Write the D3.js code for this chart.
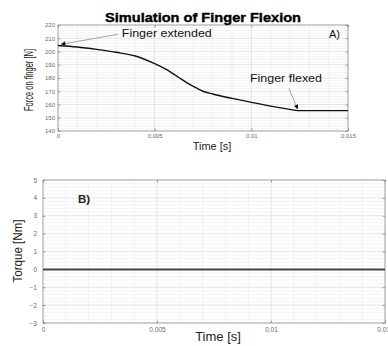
<!DOCTYPE html>
<html>
<head>
<meta charset="utf-8">
<script src="https://cdn.jsdelivr.net/npm/d3@7"></script>
<style>
  html, body { margin: 0; padding: 0; background: #fff; }
  svg { display: block; font-family: "Liberation Sans", Arial, sans-serif; }
</style>
</head>
<body>
<div id="chart"></div>
<script>
// Panel A: force on finger over time
const timeS = [0, 0.001, 0.002, 0.003, 0.004, 0.005, 0.0055, 0.006, 0.0065, 0.007,
  0.0075, 0.008, 0.009, 0.010, 0.011, 0.012, 0.0124, 0.013, 0.014, 0.015];
const forceN = [204.5, 203.4, 201.6, 199.4, 196.6, 190.8, 187.2, 182.8, 178.0, 173.6,
  170.0, 167.9, 164.6, 161.6, 158.8, 156.3, 155.4, 155.4, 155.4, 155.4];

// Panel B: torque (flat zero)
const torqueTime = [0, 0.015];
const torqueNm = [0, 0];

const timeTicks = [0, 0.005, 0.01, 0.015];
const timeTickLabels = ['0', '0.005', '0.01', '0.015'];
const forceTicks = [140, 150, 160, 170, 180, 190, 200, 210, 220];
const torqueTicks = [-3, -2, -1, 0, 1, 2, 3, 4, 5];

const width = 388, height = 346;
const svg = d3.select('#chart').append('svg')
  .attr('width', width).attr('height', height);

const defs = svg.append('defs');
defs.append('marker').attr('id', 'arr')
  .attr('viewBox', '0 0 10 10').attr('refX', 10).attr('refY', 5)
  .attr('markerWidth', 7).attr('markerHeight', 5).attr('orient', 'auto')
  .append('path').attr('d', 'M0,0 L10,5 L0,10 Z').attr('fill', '#111');

function minorTicks(major, n) {
  const out = [];
  for (let i = 0; i < major.length - 1; i++) {
    const step = (major[i + 1] - major[i]) / n;
    for (let k = 1; k < n; k++) out.push(major[i] + k * step);
  }
  return out;
}

function panel(opt) {
  const { x, y, xt, yt } = opt;
  const [x0, x1] = x.range();
  const [y0, y1] = y.range(); // y0 bottom, y1 top
  const g = svg.append('g');

  // minor grid
  g.selectAll(null).data(minorTicks(xt, 5)).join('line')
    .attr('x1', d => x(d)).attr('x2', d => x(d)).attr('y1', y1).attr('y2', y0)
    .attr('stroke', '#ebebeb').attr('stroke-width', 0.6);
  g.selectAll(null).data(minorTicks(yt, 5)).join('line')
    .attr('x1', x0).attr('x2', x1).attr('y1', d => y(d)).attr('y2', d => y(d))
    .attr('stroke', '#ebebeb').attr('stroke-width', 0.6);
  // major grid
  g.selectAll(null).data(xt).join('line')
    .attr('x1', d => x(d)).attr('x2', d => x(d)).attr('y1', y1).attr('y2', y0)
    .attr('stroke', '#d9d9d9').attr('stroke-width', 0.7);
  g.selectAll(null).data(yt).join('line')
    .attr('x1', x0).attr('x2', x1).attr('y1', d => y(d)).attr('y2', d => y(d))
    .attr('stroke', '#d9d9d9').attr('stroke-width', 0.7);

  // box
  g.append('rect').attr('x', x0).attr('y', y1)
    .attr('width', x1 - x0).attr('height', y0 - y1)
    .attr('fill', 'none').attr('stroke', '#9a9a9a').attr('stroke-width', 0.8);

  // axes with inward ticks
  g.append('g').attr('transform', `translate(0,${y0})`)
    .call(d3.axisBottom(x).tickValues(xt).tickSizeInner(-2.5).tickSizeOuter(0)
      .tickPadding(opt.xPad).tickFormat((d, i) => timeTickLabels[i]));
  g.append('g').attr('transform', `translate(${x0},0)`)
    .call(d3.axisLeft(y).tickValues(yt).tickSizeInner(-2.5).tickSizeOuter(0)
      .tickPadding(opt.yPad));
  g.append('g').attr('transform', `translate(0,${y1})`)
    .call(d3.axisTop(x).tickValues(xt).tickSizeInner(-2.5).tickSizeOuter(0).tickFormat(''));
  g.append('g').attr('transform', `translate(${x1},0)`)
    .call(d3.axisRight(y).tickValues(yt).tickSizeInner(-2.5).tickSizeOuter(0).tickFormat(''));
  g.selectAll('.domain').remove();
  g.selectAll('.tick line').attr('stroke', '#777').attr('stroke-width', 0.7);
  g.selectAll('.tick text').attr('fill', '#6a6a6a').attr('font-size', opt.tickFont);
  return g;
}

// ---------- Panel A ----------
const xA = d3.scaleLinear().domain([0, 0.015]).range([58, 348]);
const yA = d3.scaleLinear().domain([140, 220]).range([131, 25]);
const gA = panel({ x: xA, y: yA, xt: timeTicks, yt: forceTicks, xPad: 3, yPad: 3, tickFont: '6px' });

gA.append('path')
  .datum(timeS.map((t, i) => [t, forceN[i]]))
  .attr('d', d3.line().curve(d3.curveMonotoneX).x(d => xA(d[0])).y(d => yA(d[1])))
  .attr('fill', 'none').attr('stroke', '#111').attr('stroke-width', 1.4);

svg.append('text').attr('x', 203).attr('y', 22).attr('text-anchor', 'middle')
  .attr('font-size', '12px').attr('font-weight', 'bold')
  .attr('stroke', '#000').attr('stroke-width', 0.35)
  .attr('textLength', 196).attr('lengthAdjust', 'spacingAndGlyphs')
  .text('Simulation of Finger Flexion');

svg.append('text').attr('transform', 'translate(33,80) rotate(-90)')
  .attr('text-anchor', 'middle').attr('font-size', '12px').attr('fill', '#222')
  .attr('textLength', 62).attr('lengthAdjust', 'spacingAndGlyphs')
  .text('Force on finger [N]');

svg.append('text').attr('x', 212).attr('y', 150).attr('text-anchor', 'middle')
  .attr('font-size', '11px').attr('fill', '#222').text('Time [s]');

svg.append('text').attr('x', 340).attr('y', 38).attr('text-anchor', 'end')
  .attr('font-size', '11px').attr('fill', '#111').text('A)');

// annotations
gA.append('line')
  .attr('x1', xA(0.0031)).attr('y1', yA(213.0))
  .attr('x2', xA(0.00015)).attr('y2', yA(205.4))
  .attr('stroke', '#999').attr('stroke-width', 0.9).attr('marker-end', 'url(#arr)');
svg.append('text').attr('x', xA(0.0033)).attr('y', yA(210.8))
  .attr('font-size', '10.5px').attr('fill', '#111')
  .attr('textLength', 90).attr('lengthAdjust', 'spacingAndGlyphs')
  .text('Finger extended');

gA.append('line')
  .attr('x1', xA(0.01195)).attr('y1', yA(172.0))
  .attr('x2', xA(0.0124)).attr('y2', yA(156.4))
  .attr('stroke', '#999').attr('stroke-width', 0.9).attr('marker-end', 'url(#arr)');
svg.append('text').attr('x', xA(0.00993)).attr('y', yA(177.0))
  .attr('font-size', '10.5px').attr('fill', '#111')
  .attr('textLength', 72).attr('lengthAdjust', 'spacingAndGlyphs')
  .text('Finger flexed');

// ---------- Panel B ----------
const xB = d3.scaleLinear().domain([0, 0.015]).range([43, 385]);
const yB = d3.scaleLinear().domain([-3, 5]).range([323, 180]);
const gB = panel({ x: xB, y: yB, xt: timeTicks, yt: torqueTicks, xPad: 4, yPad: 6, tickFont: '6.5px' });

gB.append('path')
  .datum(torqueTime.map((t, i) => [t, torqueNm[i]]))
  .attr('d', d3.line().x(d => xB(d[0])).y(d => yB(d[1])))
  .attr('fill', 'none').attr('stroke', '#444').attr('stroke-width', 2);

svg.append('text').attr('x', 78).attr('y', 203)
  .attr('font-size', '11.5px').attr('font-weight', 'bold').attr('fill', '#222').text('B)');

svg.append('text').attr('transform', 'translate(22,251) rotate(-90)')
  .attr('text-anchor', 'middle').attr('font-size', '12.5px').attr('fill', '#222')
  .attr('textLength', 63).attr('lengthAdjust', 'spacingAndGlyphs')
  .text('Torque [Nm]');

svg.append('text').attr('x', 218).attr('y', 341).attr('text-anchor', 'middle')
  .attr('font-size', '13px').attr('fill', '#222').text('Time [s]');
</script>
</body>
</html>
